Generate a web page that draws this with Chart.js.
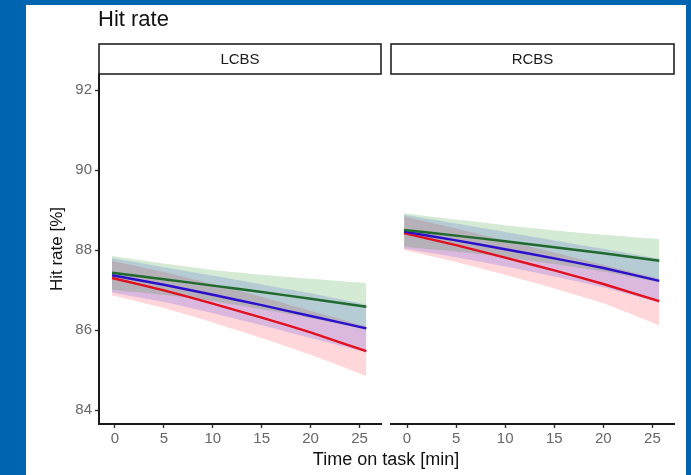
<!DOCTYPE html>
<html>
<head>
<meta charset="utf-8">
<script src="https://cdn.jsdelivr.net/npm/chart.js@4/dist/chart.umd.min.js"></script>
<style>
  html,body{margin:0;padding:0;}
  body{width:691px;height:475px;background:#0065b0;position:relative;overflow:hidden;font-family:"Liberation Sans",Arial,sans-serif;}
  #panel{position:absolute;left:26px;top:5px;width:660px;height:470px;background:#fff;}
  canvas{position:absolute;left:0;top:0;}
  #title{position:absolute;left:98px;top:6px;font-size:22px;color:#111;}
  #xtitle{position:absolute;left:236px;width:300px;text-align:center;top:449px;font-size:18px;color:#111;}
  #ytitle{position:absolute;left:-3px;top:239px;width:120px;text-align:center;font-size:17px;color:#111;transform:rotate(-90deg);}
</style>
</head>
<body>
<div id="panel"></div>
<canvas id="c1" width="691" height="475"></canvas>
<canvas id="c2" width="691" height="475"></canvas>
<div id="title">Hit rate</div>
<div id="ytitle">Hit rate [%]</div>
<div id="xtitle">Time on task [min]</div>
<script>
// ---- data ----
const panels = ["LCBS", "RCBS"];
const times = [-0.3, 5, 10, 15, 20, 25.7];
const xTicks = [0, 5, 10, 15, 20, 25];
const yTicks = [84, 86, 88, 90, 92];

// LCBS
const lcbsGreen   = [87.43, 87.27, 87.11, 86.95, 86.78, 86.58];
const lcbsGreenHi = [87.85, 87.66, 87.50, 87.38, 87.28, 87.17];
const lcbsGreenLo = [87.00, 86.88, 86.72, 86.52, 86.30, 86.00];
const lcbsBlue    = [87.37, 87.13, 86.88, 86.62, 86.35, 86.04];
const lcbsBlueHi  = [87.80, 87.57, 87.36, 87.14, 86.92, 86.64];
const lcbsBlueLo  = [86.94, 86.70, 86.42, 86.12, 85.80, 85.44];
const lcbsRed     = [87.30, 86.99, 86.66, 86.31, 85.94, 85.47];
const lcbsRedHi   = [87.73, 87.45, 87.15, 86.83, 86.48, 86.09];
const lcbsRedLo   = [86.87, 86.55, 86.19, 85.80, 85.38, 84.85];

// RCBS
const rcbsGreen   = [88.50, 88.36, 88.22, 88.07, 87.92, 87.73];
const rcbsGreenHi = [88.92, 88.76, 88.62, 88.49, 88.38, 88.27];
const rcbsGreenLo = [88.08, 87.96, 87.82, 87.65, 87.46, 87.19];
const rcbsBlue    = [88.46, 88.24, 88.02, 87.79, 87.55, 87.23];
const rcbsBlueHi  = [88.88, 88.66, 88.45, 88.24, 88.03, 87.78];
const rcbsBlueLo  = [88.04, 87.82, 87.59, 87.34, 87.07, 86.68];
const rcbsRed     = [88.42, 88.12, 87.81, 87.49, 87.15, 86.72];
const rcbsRedHi   = [88.84, 88.54, 88.24, 87.94, 87.63, 87.28];
const rcbsRedLo   = [88.00, 87.70, 87.38, 87.04, 86.67, 86.12];

const colGreen = "#1f6a2c", colBlue = "#2a0fcc", colRed = "#e2101f";
const fillGreen = "rgba(0,128,0,0.17)", fillBlue = "rgba(30,30,255,0.16)", fillRed = "rgba(255,0,20,0.16)";

function pts(arr){ return arr.map((v,i)=>({x:times[i], y:v})); }

function makeDatasets(g,gh,gl,b,bh,bl,r,rh,rl){
  const line = (d,c)=>({data:pts(d), borderColor:c, borderWidth:2.4, pointRadius:0, fill:false, tension:0.12});
  const hi = (d,c)=>({data:pts(d), borderWidth:0, borderColor:"transparent", pointRadius:0, fill:"+1", backgroundColor:c, tension:0.12});
  const lo = (d)=>({data:pts(d), borderWidth:0, borderColor:"transparent", pointRadius:0, fill:false, tension:0.12});
  return [line(g,colGreen), line(b,colBlue), line(r,colRed),
          hi(gh,fillGreen), lo(gl), hi(bh,fillBlue), lo(bl), hi(rh,fillRed), lo(rl)];
}

const stripPlugin = {
  id:"strip",
  afterDraw(chart, args, opts){
    const ctx = chart.ctx, a = chart.chartArea;
    ctx.save();
    ctx.fillStyle = "#fff";
    ctx.strokeStyle = "#222";
    ctx.lineWidth = 1.6;
    ctx.fillRect(a.left, 44, a.right - a.left, 30);
    ctx.strokeRect(a.left, 44, a.right - a.left, 30);
    ctx.fillStyle = "#1a1a1a";
    ctx.font = "15px 'Liberation Sans', Arial, sans-serif";
    ctx.textAlign = "center";
    ctx.textBaseline = "middle";
    ctx.fillText(opts.label, (a.left + a.right)/2, 59.5);
    ctx.restore();
  }
};

function makeChart(id, label, showY, padLeft, padRight, ds){
  return new Chart(document.getElementById(id), {
    type:"line",
    data:{datasets:ds},
    plugins:[stripPlugin],
    options:{
      responsive:false, animation:false, devicePixelRatio:1,
      layout:{padding:{left:padLeft, right:padRight, top:74, bottom:0}},
      plugins:{legend:{display:false}, tooltip:{enabled:false}, strip:{label:label},
               filler:{drawTime:"beforeDatasetsDraw"}},
      scales:{
        x:{type:"linear", min:-1.63, max:27.2,
           afterBuildTicks(s){ s.ticks = xTicks.map(v=>({value:v})); },
           afterFit(s){ s.height = 51; },
           ticks:{color:"#666", font:{size:15, family:"'Liberation Sans', Arial"}, padding:2, maxRotation:0},
           grid:{drawOnChartArea:false, tickLength:4, tickColor:"#333", tickWidth:1.4},
           border:{display:true, color:"#1a1a1a", width:2}},
        y:{type:"linear", display:showY, min:83.65, max:92.4,
           afterBuildTicks(s){ s.ticks = yTicks.map(v=>({value:v})); },
           afterFit(s){ s.width = showY ? 44 : 0; },
           ticks:{color:"#666", font:{size:15, family:"'Liberation Sans', Arial"}, padding:3},
           grid:{drawOnChartArea:false, tickLength:4, tickColor:"#333", tickWidth:1.4},
           border:{display:true, color:"#1a1a1a", width:2}}
      }
    }
  });
}

makeChart("c1", panels[0], true, 55, 310,
  makeDatasets(lcbsGreen,lcbsGreenHi,lcbsGreenLo,lcbsBlue,lcbsBlueHi,lcbsBlueLo,lcbsRed,lcbsRedHi,lcbsRedLo));
makeChart("c2", panels[1], false, 391, 17,
  makeDatasets(rcbsGreen,rcbsGreenHi,rcbsGreenLo,rcbsBlue,rcbsBlueHi,rcbsBlueLo,rcbsRed,rcbsRedHi,rcbsRedLo));
</script>
</body>
</html>
